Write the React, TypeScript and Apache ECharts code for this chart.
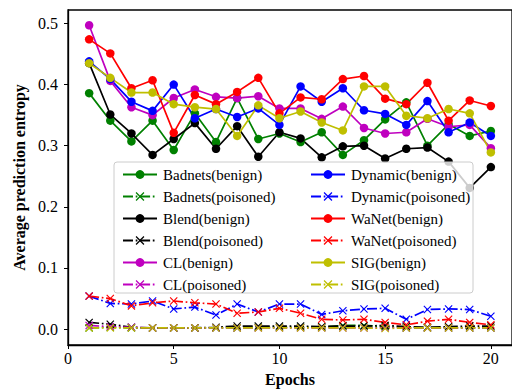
import React, { useEffect, useRef } from "react";
import * as echarts from "echarts";

const epochs = [1, 2, 3, 4, 5, 6, 7, 8, 9, 10, 11, 12, 13, 14, 15, 16, 17, 18, 19, 20];

const badnetsBenign = [0.386, 0.341, 0.307, 0.341, 0.293, 0.353, 0.306, 0.378, 0.311, 0.320, 0.306, 0.322, 0.285, 0.309, 0.343, 0.371, 0.300, 0.335, 0.316, 0.324];
const badnetsPoisoned = [0.002, 0.003, 0.002, 0.002, 0.002, 0.002, 0.002, 0.002, 0.003, 0.003, 0.003, 0.003, 0.006, 0.006, 0.004, 0.002, 0.002, 0.002, 0.002, 0.002];
const blendBenign = [0.435, 0.351, 0.320, 0.285, 0.311, 0.337, 0.295, 0.332, 0.282, 0.322, 0.312, 0.281, 0.299, 0.300, 0.279, 0.295, 0.297, 0.274, 0.231, 0.265];
const blendPoisoned = [0.011, 0.008, 0.003, 0.002, 0.002, 0.002, 0.003, 0.005, 0.005, 0.005, 0.005, 0.004, 0.005, 0.005, 0.006, 0.004, 0.003, 0.004, 0.005, 0.005];
const clBenign = [0.497, 0.406, 0.363, 0.350, 0.378, 0.392, 0.380, 0.378, 0.381, 0.361, 0.361, 0.344, 0.364, 0.329, 0.320, 0.322, 0.344, 0.331, 0.334, 0.296];
const clPoisoned = [0.006, 0.004, 0.003, 0.002, 0.002, 0.002, 0.002, 0.002, 0.002, 0.002, 0.002, 0.002, 0.002, 0.002, 0.002, 0.002, 0.002, 0.002, 0.002, 0.002];
const dynamicBenign = [0.438, 0.409, 0.372, 0.357, 0.400, 0.345, 0.360, 0.347, 0.361, 0.334, 0.397, 0.372, 0.394, 0.358, 0.352, 0.334, 0.373, 0.322, 0.338, 0.316];
const dynamicPoisoned = [0.054, 0.042, 0.041, 0.046, 0.033, 0.036, 0.023, 0.041, 0.028, 0.041, 0.041, 0.024, 0.030, 0.033, 0.034, 0.016, 0.032, 0.033, 0.032, 0.021];
const wanetBenign = [0.474, 0.451, 0.394, 0.407, 0.321, 0.383, 0.368, 0.388, 0.411, 0.353, 0.379, 0.376, 0.409, 0.414, 0.377, 0.368, 0.403, 0.341, 0.374, 0.365];
const wanetPoisoned = [0.054, 0.050, 0.038, 0.043, 0.046, 0.043, 0.041, 0.026, 0.028, 0.034, 0.026, 0.016, 0.015, 0.016, 0.011, 0.007, 0.013, 0.016, 0.011, 0.007];
const sigBenign = [0.435, 0.411, 0.387, 0.387, 0.368, 0.363, 0.360, 0.316, 0.366, 0.345, 0.356, 0.338, 0.325, 0.397, 0.397, 0.349, 0.345, 0.360, 0.353, 0.289];
const sigPoisoned = [0.002, 0.002, 0.002, 0.002, 0.002, 0.002, 0.002, 0.002, 0.002, 0.002, 0.002, 0.002, 0.002, 0.002, 0.001, 0.002, 0.002, 0.002, 0.002, 0.002];

const xTicks = [0, 5, 10, 15, 20];
const yTicks = [0, 0.1, 0.2, 0.3, 0.4, 0.5];

const seriesNames = [
  "Badnets(benign)", "Badnets(poisoned)",
  "Blend(benign)", "Blend(poisoned)",
  "CL(benign)", "CL(poisoned)",
  "Dynamic(benign)", "Dynamic(poisoned)",
  "WaNet(benign)", "WaNet(poisoned)",
  "SIG(benign)", "SIG(poisoned)",
];
const seriesValues = [
  badnetsBenign, badnetsPoisoned, blendBenign, blendPoisoned, clBenign, clPoisoned,
  dynamicBenign, dynamicPoisoned, wanetBenign, wanetPoisoned, sigBenign, sigPoisoned,
];
const seriesColors = [
  "#008000", "#008000", "#000000", "#000000", "#bf00bf", "#bf00bf",
  "#0000ff", "#0000ff", "#ff0000", "#ff0000", "#bfbf00", "#bfbf00",
];

const FONT = "Liberation Serif";
const X_SYMBOL = "path://M1,0 L5,4 L9,0 L10,1 L6,5 L10,9 L9,10 L5,6 L1,10 L0,9 L4,5 L0,1 Z";

export default function App() {
  const ref = useRef<HTMLDivElement>(null);

  useEffect(() => {
    if (!ref.current) return;
    const chart = echarts.init(ref.current, null, { renderer: "svg" });

    const series = seriesNames.map((name, i) => {
      const poisoned = i % 2 === 1;
      return {
        name,
        type: "line",
        data: epochs.map((e, j) => [e, seriesValues[i][j]]),
        symbol: poisoned ? X_SYMBOL : "circle",
        symbolSize: poisoned ? 8 : 8.5,
        showSymbol: true,
        itemStyle: { color: seriesColors[i] },
        lineStyle: {
          color: seriesColors[i],
          width: 1.7,
          type: poisoned ? [10, 2.7, 1.7, 2.7] : "solid",
        },
        emphasis: { disabled: true },
      };
    });

    const legendCommon = {
      orient: "vertical",
      top: 162,
      itemWidth: 34,
      itemHeight: 11,
      itemGap: 7,
      selectedMode: false,
      z: 6,
      textStyle: {
        fontFamily: FONT,
        fontSize: 15,
        color: "#000",
        padding: [0, 0, 0, 1],
      },
    };

    chart.setOption({
      animation: false,
      textStyle: { fontFamily: FONT },
      grid: {
        left: 68,
        top: 10,
        width: 451.5,
        height: 337,
        show: true,
        borderColor: "#000",
        borderWidth: 1.3,
        backgroundColor: "transparent",
      },
      xAxis: {
        type: "value",
        min: 0,
        max: 21,
        name: "Epochs",
        nameLocation: "middle",
        nameGap: 26,
        nameTextStyle: { fontFamily: FONT, fontSize: 16, fontWeight: "bold", color: "#000" },
        axisLine: { show: true, onZero: false, lineStyle: { color: "#000", width: 1.3 } },
        axisTick: { show: true, inside: false, length: 4, customValues: xTicks, lineStyle: { color: "#000" } },
        axisLabel: {
          customValues: xTicks,
          fontFamily: FONT,
          fontSize: 16,
          color: "#000",
          margin: 5,
        },
        splitLine: { show: false },
      },
      yAxis: {
        type: "value",
        min: -0.026,
        max: 0.522,
        name: "Average prediction entropy",
        nameLocation: "middle",
        nameGap: 32,
        nameTextStyle: { fontFamily: FONT, fontSize: 16, fontWeight: "bold", color: "#000" },
        axisLine: { show: true, onZero: false, lineStyle: { color: "#000", width: 1.3 } },
        axisTick: { show: true, inside: false, length: 4, customValues: yTicks, lineStyle: { color: "#000" } },
        axisLabel: {
          customValues: yTicks,
          formatter: (v: number) => v.toFixed(1),
          fontFamily: FONT,
          fontSize: 16,
          color: "#000",
          margin: 10,
        },
        splitLine: { show: false },
      },
      legend: [
        { ...legendCommon, left: 117, data: seriesNames.slice(0, 6) },
        { ...legendCommon, left: 305, data: seriesNames.slice(6, 12) },
      ],
      graphic: {
        elements: [
          {
            type: "rect",
            z: 5,
            shape: { x: 114, y: 162, width: 359, height: 131, r: 3 },
            style: { fill: "rgba(255,255,255,0.8)", stroke: "#cccccc", lineWidth: 1 },
            silent: true,
          },
        ],
      },
      series,
    });

    return () => chart.dispose();
  }, []);

  return (
    <div style={{ position: "fixed", left: 0, top: 0, width: 512, height: 392, overflow: "hidden", background: "#fff" }}>
      <div ref={ref} style={{ width: 512, height: 392 }} />
    </div>
  );
}
